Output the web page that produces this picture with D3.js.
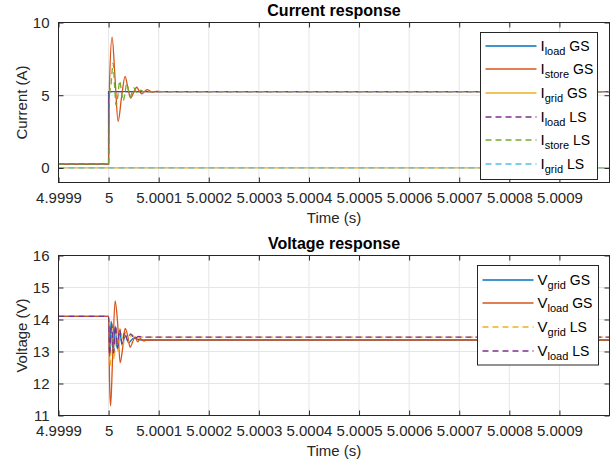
<!DOCTYPE html>
<html>
<head>
<meta charset="utf-8">
<script src="https://cdn.jsdelivr.net/npm/d3@7/dist/d3.min.js"></script>
<style>
  html, body { margin: 0; padding: 0; background: #fff; }
  svg { display: block; font-family: "Liberation Sans", Arial, Helvetica, sans-serif; }
</style>
</head>
<body>
<svg id="chart" width="616" height="468"></svg>
<script>
// ---- data ----
// x ticks (s) and their labels
const timeTicks = [4.9999, 5, 5.0001, 5.0002, 5.0003, 5.0004, 5.0005, 5.0006, 5.0007, 5.0008, 5.0009];
const timeTickLabels = ["4.9999", "5", "5.0001", "5.0002", "5.0003", "5.0004", "5.0005", "5.0006", "5.0007", "5.0008", "5.0009"];
const timeDomain = [4.9999, 5.001];

const currentTicks = [0, 5, 10];
const currentDomain = [-1, 10];
const voltageTicks = [11, 12, 13, 14, 15, 16];
const voltageDomain = [11, 16];

// Sample times are given in microseconds after t = 5 s.
// Currents (A)
const iLoadGS_us = [-100, 0, 0, 1000];
const iLoadGS    = [0.27, 0.27, 5.25, 5.25];
const iStoreGS_us = [-100, 0, 2, 7, 13, 19, 26, 33, 38, 44, 50, 56, 61, 66, 72, 77, 83, 88, 95, 105, 1000];
const iStoreGS    = [0.27, 0.27, 6.0, 9.0, 6.1, 3.2, 4.9, 6.3, 5.6, 4.8, 5.2, 5.55, 5.3, 5.1, 5.25, 5.38, 5.28, 5.2, 5.26, 5.25, 5.25];
const iGridGS_us = [-100, 1000];
const iGridGS    = [0, 0];
const iLoadLS_us = [-100, 0, 0, 1000];
const iLoadLS    = [0.27, 0.27, 5.25, 5.25];
const iStoreLS_us = [-100, 0, 2, 5, 9, 12, 15, 19, 22, 26, 29, 33, 36, 40, 43, 47, 50, 54, 57, 61, 64, 72, 85, 1000];
const iStoreLS    = [0.27, 0.27, 5.0, 5.8, 7.2, 5.6, 4.3, 5.1, 6.0, 5.2, 4.6, 5.2, 5.8, 5.3, 4.9, 5.2, 5.5, 5.3, 5.1, 5.25, 5.35, 5.2, 5.25, 5.25];
const iGridLS_us = [-100, 1000];
const iGridLS    = [0, 0];

// Voltages (V)
const vGridGS_us = [-100, 0, 2, 5, 9, 13, 17, 22, 27, 33, 40, 50, 65, 1000];
const vGridGS    = [14.1, 14.1, 12.8, 13.95, 12.9, 13.8, 13.1, 13.65, 13.2, 13.5, 13.28, 13.42, 13.36, 13.36];
const vLoadGS_us = [-100, 0, 2, 4, 8, 13, 18, 23, 28, 33, 38, 43, 48, 53, 58, 63, 70, 80, 1000];
const vLoadGS    = [14.1, 14.1, 12.0, 11.3, 12.8, 14.58, 13.9, 12.65, 13.1, 13.72, 13.5, 13.13, 13.3, 13.46, 13.3, 13.4, 13.33, 13.36, 13.36];
const vGridLS_us = [-100, 0, 3, 7, 11, 15, 19, 24, 29, 34, 40, 47, 55, 65, 1000];
const vGridLS    = [14.1, 14.1, 12.55, 13.85, 12.75, 13.75, 13.0, 13.7, 13.2, 13.6, 13.3, 13.52, 13.4, 13.45, 13.45];
const vLoadLS_us = [-100, 0, 2, 6, 10, 14, 18, 22, 27, 32, 38, 44, 52, 60, 70, 1000];
const vLoadLS    = [14.1, 14.1, 12.9, 13.9, 12.95, 13.8, 13.1, 13.7, 13.25, 13.6, 13.35, 13.55, 13.4, 13.47, 13.45, 13.45];

const currentSeries = [
  { base: "I", sub: "load",  tag: "GS", us: iLoadGS_us,  v: iLoadGS,  color: "#0072BD", dash: null },
  { base: "I", sub: "store", tag: "GS", us: iStoreGS_us, v: iStoreGS, color: "#D95319", dash: null },
  { base: "I", sub: "grid",  tag: "GS", us: iGridGS_us,  v: iGridGS,  color: "#EDB120", dash: null },
  { base: "I", sub: "load",  tag: "LS", us: iLoadLS_us,  v: iLoadLS,  color: "#7E2F8E", dash: "6,4" },
  { base: "I", sub: "store", tag: "LS", us: iStoreLS_us, v: iStoreLS, color: "#77AC30", dash: "6,4" },
  { base: "I", sub: "grid",  tag: "LS", us: iGridLS_us,  v: iGridLS,  color: "#4DBEEE", dash: "6,4" }
];
const voltageSeries = [
  { base: "V", sub: "grid", tag: "GS", us: vGridGS_us, v: vGridGS, color: "#0072BD", dash: null },
  { base: "V", sub: "load", tag: "GS", us: vLoadGS_us, v: vLoadGS, color: "#D95319", dash: null },
  { base: "V", sub: "grid", tag: "LS", us: vGridLS_us, v: vGridLS, color: "#EDB120", dash: "6,4" },
  { base: "V", sub: "load", tag: "LS", us: vLoadLS_us, v: vLoadLS, color: "#7E2F8E", dash: "6,4" }
];

// ---- drawing ----
const svg = d3.select("#chart");
const axisColor = "#262626";
const gridColor = "#e6e6e6";
const left = 58.5, right = 609.5;

function drawPanel(cfg) {
  const x = d3.scaleLinear().domain(timeDomain).range([left, right]);
  const y = d3.scaleLinear().domain(cfg.yDomain).range([cfg.bottom, cfg.top]);
  const g = svg.append("g");
  const clipId = "clip-" + cfg.id;
  svg.append("clipPath").attr("id", clipId)
    .append("rect").attr("x", left).attr("y", cfg.top)
    .attr("width", right - left).attr("height", cfg.bottom - cfg.top);

  // grid
  g.append("g").selectAll("line").data(timeTicks).join("line")
    .attr("x1", d => x(d)).attr("x2", d => x(d))
    .attr("y1", cfg.top).attr("y2", cfg.bottom)
    .attr("stroke", gridColor).attr("stroke-width", 1);
  g.append("g").selectAll("line").data(cfg.yTicks).join("line")
    .attr("x1", left).attr("x2", right)
    .attr("y1", d => y(d)).attr("y2", d => y(d))
    .attr("stroke", gridColor).attr("stroke-width", 1);

  // series
  const smooth = d3.line().x(d => x(d[0])).y(d => y(d[1])).curve(d3.curveMonotoneX);
  const straight = d3.line().x(d => x(d[0])).y(d => y(d[1]));
  const lines = g.append("g").attr("clip-path", `url(#${clipId})`);
  cfg.series.forEach(s => {
    const pts = s.us.map((u, i) => [5 + u * 1e-6, s.v[i]]);
    // a repeated sample time marks an ideal step, drawn with straight segments
    const hasStep = s.us.some((u, i) => i > 0 && u === s.us[i - 1]);
    lines.append("path")
      .attr("d", (hasStep ? straight : smooth)(pts))
      .attr("fill", "none")
      .attr("stroke", s.color)
      .attr("stroke-width", 1.3)
      .attr("stroke-dasharray", s.dash)
      .attr("stroke-linejoin", "round");
  });

  // axes (ticks point inward, mirrored on top and right)
  const fmt = (d) => timeTickLabels[timeTicks.indexOf(d)];
  const xb = g.append("g").attr("transform", `translate(0,${cfg.bottom})`)
    .call(d3.axisBottom(x).tickValues(timeTicks).tickFormat(fmt).tickSize(-5).tickPadding(10));
  const xt = g.append("g").attr("transform", `translate(0,${cfg.top})`)
    .call(d3.axisTop(x).tickValues(timeTicks).tickFormat("").tickSize(-5));
  const yl = g.append("g").attr("transform", `translate(${left},0)`)
    .call(d3.axisLeft(y).tickValues(cfg.yTicks).tickFormat(d3.format("d")).tickSize(-5).tickPadding(9));
  const yr = g.append("g").attr("transform", `translate(${right},0)`)
    .call(d3.axisRight(y).tickValues(cfg.yTicks).tickFormat("").tickSize(-5));
  [xb, xt, yl, yr].forEach(a => {
    a.select(".domain").remove();
    a.selectAll(".tick line").attr("stroke", axisColor);
    a.selectAll(".tick text").attr("fill", axisColor)
      .style("font-size", "15px").style("font-family", "'Liberation Sans', Arial, sans-serif");
  });
  g.append("rect").attr("x", left).attr("y", cfg.top)
    .attr("width", right - left).attr("height", cfg.bottom - cfg.top)
    .attr("fill", "none").attr("stroke", axisColor).attr("stroke-width", 1);

  // title and labels
  g.append("text").attr("x", (left + right) / 2).attr("y", cfg.top - 7)
    .attr("text-anchor", "middle").attr("font-weight", "bold").attr("font-size", 16)
    .attr("fill", "#000").text(cfg.title);
  g.append("text").attr("x", (left + right) / 2).attr("y", cfg.bottom + 40)
    .attr("text-anchor", "middle").attr("font-size", 15).attr("fill", axisColor).text("Time (s)");
  g.append("text")
    .attr("transform", `translate(27,${(cfg.top + cfg.bottom) / 2}) rotate(-90)`)
    .attr("text-anchor", "middle").attr("font-size", 15).attr("fill", axisColor).text(cfg.yLabel);

  // legend
  const L = cfg.legend;
  const lg = g.append("g");
  lg.append("rect").attr("x", L.x).attr("y", L.y).attr("width", L.w).attr("height", L.h)
    .attr("fill", "#fff").attr("stroke", axisColor).attr("stroke-width", 1);
  cfg.series.forEach((s, i) => {
    const ry = Math.round(L.y + L.first + i * L.step);
    lg.append("line").attr("x1", L.x + 5).attr("x2", L.x + 56)
      .attr("y1", ry).attr("y2", ry)
      .attr("stroke", s.color).attr("stroke-width", 1.6).attr("stroke-dasharray", s.dash);
    const t = lg.append("text").attr("x", L.x + 60).attr("y", ry + 5).attr("fill", "#000");
    t.append("tspan").attr("font-size", 15).text(s.base);
    t.append("tspan").attr("font-size", 11).attr("dy", 4).text(s.sub);
    t.append("tspan").attr("font-size", 14).attr("dy", -4).text(" " + s.tag);
  });
}

drawPanel({
  id: "cur", top: 22.5, bottom: 182.5, yDomain: currentDomain, yTicks: currentTicks,
  title: "Current response", yLabel: "Current (A)", series: currentSeries,
  legend: { x: 480.5, y: 32.5, w: 117, h: 147, first: 13, step: 23.7 }
});
drawPanel({
  id: "volt", top: 255.5, bottom: 415.5, yDomain: voltageDomain, yTicks: voltageTicks,
  title: "Voltage response", yLabel: "Voltage (V)", series: voltageSeries,
  legend: { x: 477.5, y: 265.5, w: 121, h: 99.5, first: 14, step: 23.8 }
});
</script>
</body>
</html>
